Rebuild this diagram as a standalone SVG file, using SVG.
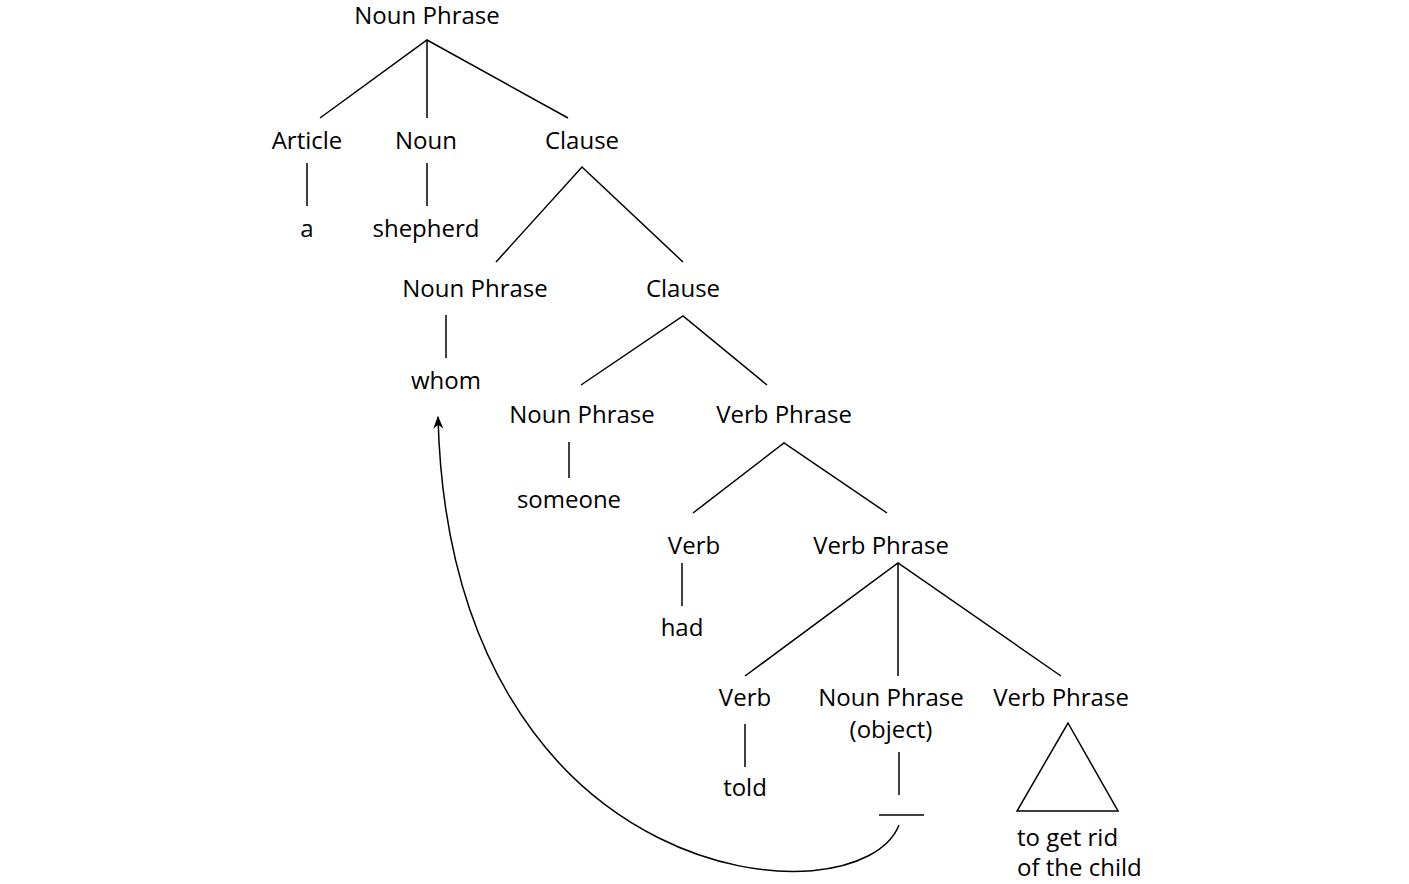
<svg xmlns="http://www.w3.org/2000/svg" width="1409" height="884" viewBox="0 0 1409 884">
<style>
text{font-family:"Open Sans","Lato",sans-serif;font-size:24px;fill:#000;text-anchor:middle}
.l{stroke:#000;stroke-width:1.5;fill:none}
</style>
<defs>
<marker id="ah" viewBox="0 0 10 10" refX="9" refY="5" markerWidth="13" markerHeight="10" orient="auto" markerUnits="userSpaceOnUse" preserveAspectRatio="none">
<path d="M0,0 L10,5 L0,10 L3,5 Z" fill="#000"/>
</marker>
</defs>
<rect width="1409" height="884" fill="#fff"/>
<g id="connectors">
<path class="l" d="M320,118 L427,40 L568,118 M427,40 V118"/>
<path class="l" d="M307,163 V206 M427,163 V206"/>
<path class="l" d="M496,262 L582,167 L683,262"/>
<path class="l" d="M446,315 V358"/>
<path class="l" d="M581,385 L683,316 L767,385"/>
<path class="l" d="M569,442 V478"/>
<path class="l" d="M693,513 L784,443 L887,513"/>
<path class="l" d="M682,563 V606"/>
<path class="l" d="M745,676 L898,563 L1061,676 M898,563 V676"/>
<path class="l" d="M745,724 V767"/>
<path class="l" d="M899,752 V795"/>
<path class="l" d="M879,815 H924"/>
<path class="l" d="M1068,723 L1118,811 L1017,811 Z"/>
<path class="l" d="M899,825 C860,925 450,895 438,417" marker-end="url(#ah)"/>
</g>
<g id="n-np1"><text x="427" y="24">Noun Phrase</text></g>
<g id="n-article"><text x="307" y="149">Article</text></g>
<g id="n-noun"><text x="426" y="149">Noun</text></g>
<g id="n-clause1"><text x="582" y="149">Clause</text></g>
<g id="n-a"><text x="307" y="237">a</text></g>
<g id="n-shepherd"><text x="426" y="237">shepherd</text></g>
<g id="n-np2"><text x="475" y="297">Noun Phrase</text></g>
<g id="n-clause2"><text x="683" y="297">Clause</text></g>
<g id="n-whom"><text x="446" y="389">whom</text></g>
<g id="n-np3"><text x="582" y="423">Noun Phrase</text></g>
<g id="n-vp1"><text x="784" y="423">Verb Phrase</text></g>
<g id="n-someone"><text x="569" y="508">someone</text></g>
<g id="n-verb1"><text x="694" y="554">Verb</text></g>
<g id="n-vp2"><text x="881" y="554">Verb Phrase</text></g>
<g id="n-had"><text x="682" y="636">had</text></g>
<g id="n-verb2"><text x="745" y="706">Verb</text></g>
<g id="n-npobj"><text x="891" y="706">Noun Phrase</text><text x="891" y="738">(object)</text></g>
<g id="n-vp3"><text x="1061" y="706">Verb Phrase</text></g>
<g id="n-told"><text x="745" y="796">told</text></g>
<g id="n-tgr"><text x="1017" y="846" style="text-anchor:start">to get rid</text><text x="1017" y="876" style="text-anchor:start">of the child</text></g>
</svg>
